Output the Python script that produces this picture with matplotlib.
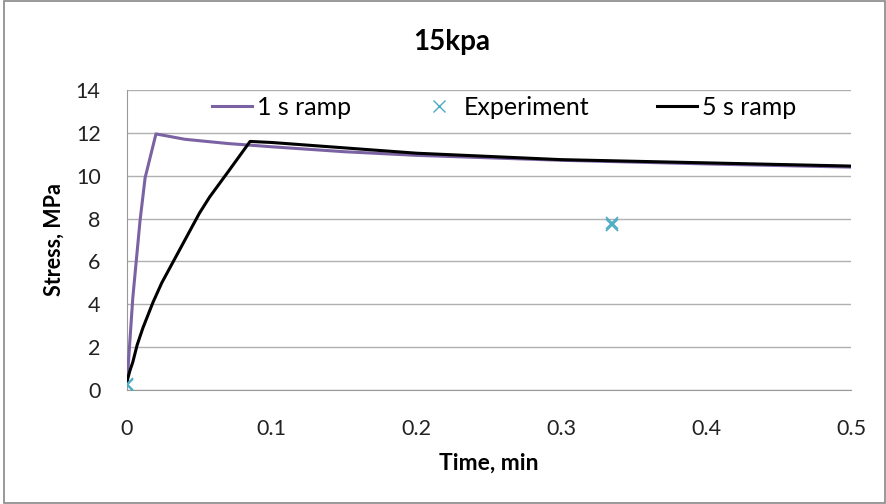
import matplotlib
matplotlib.use("Agg")
import matplotlib.pyplot as plt

plt.rcParams['font.family'] = ['Lato', 'DejaVu Sans']

# 1 s ramp simulation
t_1s = [0.0, 0.004, 0.009, 0.0125, 0.020, 0.04, 0.07, 0.1, 0.15, 0.2, 0.3, 0.4, 0.5]
s_1s = [0.3, 4.3, 7.9, 9.9, 11.95, 11.7, 11.5, 11.35, 11.12, 10.95, 10.72, 10.55, 10.4]

# 5 s ramp simulation
t_5s = [0.0, 0.002, 0.004, 0.007, 0.011, 0.018, 0.024, 0.030, 0.040, 0.050, 0.057,
        0.070, 0.085, 0.1, 0.15, 0.2, 0.3, 0.4, 0.5]
s_5s = [0.4, 0.9, 1.3, 2.1, 2.9, 4.1, 5.0, 5.75, 7.0, 8.25, 9.0,
        10.2, 11.6, 11.55, 11.3, 11.05, 10.75, 10.6, 10.45]

# Experimental measurements
t_exp = [0.0, 0.0, 0.335, 0.335]
s_exp = [0.25, 0.3, 7.7, 7.8]

x_ticks = [0, 0.1, 0.2, 0.3, 0.4, 0.5]
x_tick_labels = ['0', '0.1', '0.2', '0.3', '0.4', '0.5']
y_ticks = [0, 2, 4, 6, 8, 10, 12, 14]

fig = plt.figure(figsize=(8.87, 5.04), dpi=100)
fig.patch.set_facecolor('white')
ax = fig.add_axes([127/887, 1 - 390/504, (851 - 127)/887, 300/504])

ax.plot(t_1s, s_1s, color='#7b62a3', lw=2.2, label='1 s ramp', zorder=3)
ax.plot(t_exp, s_exp, linestyle='none', marker='x', color='#4aacc5', ms=8, mew=1.2,
        label='Experiment', zorder=4)
ax.plot(t_5s, s_5s, color='black', lw=2.2, label='5 s ramp', zorder=3)

ax.set_xlim(0, 0.5)
ax.set_ylim(0, 14)
ax.set_xticks(x_ticks)
ax.set_xticklabels(x_tick_labels)
ax.set_yticks(y_ticks)
ax.tick_params(axis='both', labelsize=15.5, colors='#222222', length=0)
ax.tick_params(axis='x', pad=21)
ax.tick_params(axis='y', pad=19)
ax.grid(axis='y', color='#b0b0b0', lw=1)
ax.set_axisbelow(True)
for side in ['top', 'right']:
    ax.spines[side].set_visible(False)
for side in ['left', 'bottom']:
    ax.spines[side].set_color('#999999')

ax.set_xlabel('Time, min', fontsize=16.5, fontweight='bold', labelpad=10)
ax.set_ylabel('Stress, MPa', fontsize=15.5, fontweight='bold', labelpad=8)
fig.text(452/887, 1 - 42/504, '15kpa', ha='center', va='center', fontsize=20, fontweight='bold')

leg = ax.legend(loc='center', bbox_to_anchor=(0.521, 0.943), ncol=3, frameon=False,
                fontsize=18, handlelength=1.6, columnspacing=2.7, handletextpad=0.2,
                borderaxespad=0, borderpad=0)
leg.legend_handles[1].set_markersize(9)
leg.legend_handles[1].set_markeredgewidth(1.0)

# thin outer border around the chart area
fig.add_artist(plt.Rectangle((0.004, 0.002), 0.994, 0.996, transform=fig.transFigure,
                             fill=False, edgecolor='#888888', lw=1.2))

fig.savefig('out.png', dpi=100)
